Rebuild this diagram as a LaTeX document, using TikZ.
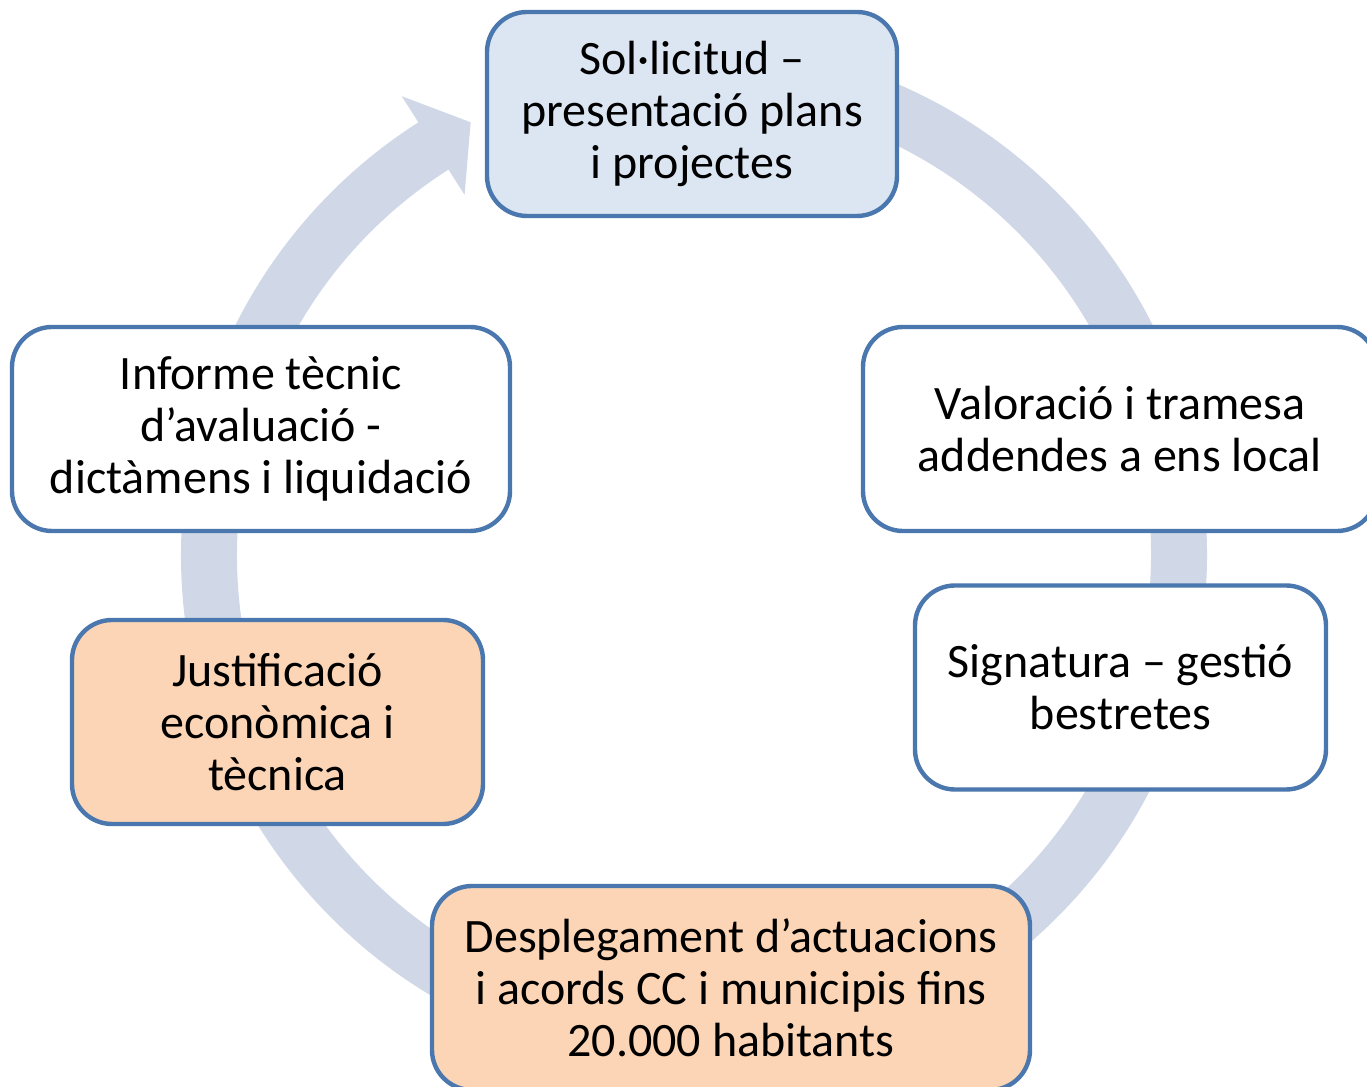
\documentclass[tikz,border=0pt]{standalone}
\usepackage{fontspec}
\setmainfont{Carlito}
\definecolor{ringblue}{RGB}{208,216,232}
\definecolor{boxline}{RGB}{74,119,173}
\definecolor{paleblue}{RGB}{220,230,242}
\definecolor{peach}{RGB}{251,213,181}

\begin{document}
\begin{tikzpicture}[x=0.5pt,y=0.5pt,
   box/.style={rectangle,rounded corners=20pt,draw=boxline,line width=2.2pt,
    fill=white,align=center,inner sep=0pt,minimum height=102pt,
    font=\fontsize{24}{26}\selectfont}
    ]
  \useasboundingbox (0,0) rectangle (1367,1087);

  % -- ring arrow behind the boxes
  \begin{scope}[shift={(694,532)}]
   \fill[ringblue] (85:513) arc[start angle=85,end angle=-237.5,radius=513]
     -- (122.5:544) -- (117.3:487) -- (122.5:427) -- (122.5:457)
     arc[start angle=-237.5,end angle=85,radius=457] -- cycle;
  \end{scope}

  % -- boxes
  \node[box,fill=paleblue,minimum width=205pt] at (692,973) (sol)
    {Sol·licitud –\\presentació plans\\i projectes};
  \node[box,minimum width=257pt] at (1120,658) (val)
    {Valoració i tramesa\\addendes a ens local};
  \node[box,minimum width=205.5pt] at (1120.5,399.5) (sig)
    {Signatura – gestió\\bestretes};
  \node[box,fill=peach,minimum width=299pt] at (731,99) (des)
    {Desplegament d’actuacions\\i acords CC i municipis fins\\20.000 habitants};
  \node[box,fill=peach,minimum width=205.5pt] at (277.5,365) (just)
    {Justificació\\econòmica i\\tècnica};
  \node[box,minimum width=249pt] at (261,658) (inf)
    {Informe tècnic\\d’avaluació -\\dictàmens i liquidació};

\end{tikzpicture}
\end{document}
